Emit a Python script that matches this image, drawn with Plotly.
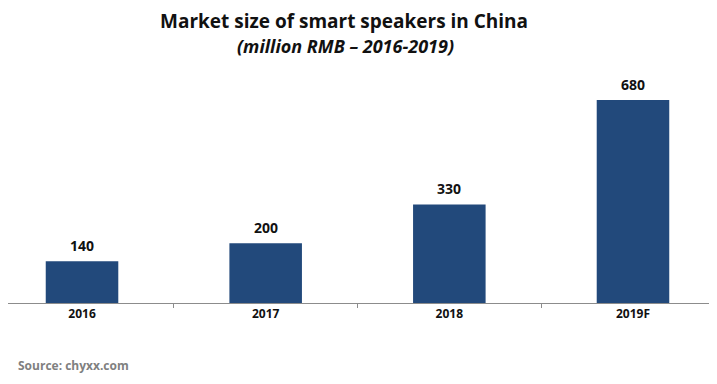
import plotly.graph_objects as go

categories = ["2016", "2017", "2018", "2019F"]
values = [140, 200, 330, 680]
title = "Market size of smart speakers in China"
subtitle = "(million RMB – 2016-2019)"
source = "Source: chyxx.com"

FONT = "Open Sans"
OFF = 8  # page body margin offset

fig = go.Figure(go.Bar(
    x=categories, y=values,
    width=0.395,
    marker=dict(color="#22497b", line=dict(width=0)),
    hoverinfo="skip",
))

T, B = 62, 89
plot_h = 384 - T - B
plot_w = 717

def ypix(screen_y):
    return (384 - B - (screen_y - OFF)) / plot_h

def xpix(screen_x):
    return (screen_x - OFF) / plot_w

annotations = []
for i, v in enumerate(values):
    annotations.append(dict(
        x=i, y=v, xref="x", yref="y", text=str(v), showarrow=False,
        yshift=16, yanchor="middle",
        font=dict(family=FONT, size=14, color="#111111", weight="bold"),
    ))
annotations += [
    dict(text=title, x=xpix(344), y=ypix(21), xref="paper", yref="paper", showarrow=False,
         xanchor="center", yanchor="middle",
         font=dict(family=FONT, size=19, color="#111111", weight="bold")),
    dict(text="<i>" + subtitle + "</i>", x=xpix(345), y=ypix(46), xref="paper", yref="paper",
         showarrow=False, xanchor="center", yanchor="middle",
         font=dict(family=FONT, size=18, color="#111111", weight="bold")),
    dict(text=source, x=xpix(16), y=ypix(365), xref="paper", yref="paper",
         showarrow=False, xanchor="left", yanchor="middle",
         font=dict(family=FONT, size=12, color="#808080", weight="bold")),
]

fig.update_layout(
    width=717, height=384,
    margin=dict(l=0, r=0, t=T, b=B),
    paper_bgcolor="white", plot_bgcolor="white",
    showlegend=False,
    font=dict(family=FONT),
    xaxis=dict(
        type="category",
        range=[-0.403, 3.501],
        showline=True, linecolor="#8c8c8c", linewidth=1,
        ticks="outside", tickson="boundaries", ticklen=4, tickcolor="#8c8c8c",
        tickfont=dict(family=FONT, size=12, color="#111111", weight="bold"),
        showgrid=False, fixedrange=True,
    ),
    yaxis=dict(range=[0, 780.6], visible=False, showgrid=False, fixedrange=True),
    annotations=annotations,
)

fig.write_html("out.html")
